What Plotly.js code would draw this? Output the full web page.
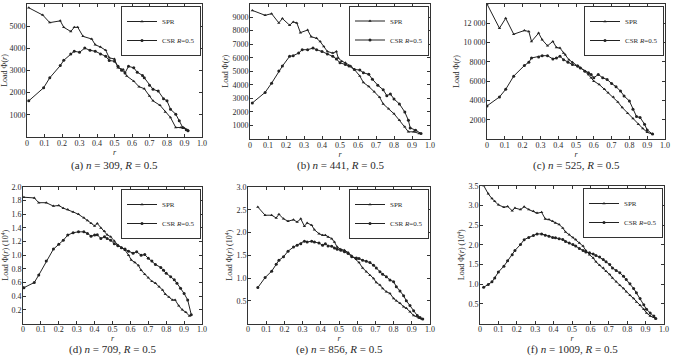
<!DOCTYPE html>
<html><head><meta charset="utf-8">
<script src="https://cdn.plot.ly/plotly-3.0.1.min.js"></script>
<style>html,body{margin:0;padding:0;background:#fff}#chart{width:673px;height:356px}</style>
</head><body><div id="chart"></div>
<script>
// ---- data ----
const seriesNames = ['SPR', 'CSR <i>R</i>=0.5'];
const captions = ['(a) <i>n</i> = 309, <i>R</i> = 0.5', '(b) <i>n</i> = 441, <i>R</i> = 0.5', '(c) <i>n</i> = 525, <i>R</i> = 0.5',
                  '(d) <i>n</i> = 709, <i>R</i> = 0.5', '(e) <i>n</i> = 856, <i>R</i> = 0.5', '(f) <i>n</i> = 1009, <i>R</i> = 0.5'];
const xTickVals = [0,0.1,0.2,0.3,0.4,0.5,0.6,0.7,0.8,0.9,1.0];
const xTickText = ['0','0.1','0.2','0.3','0.4','0.5','0.6','0.7','0.8','0.9','1.0'];

const aTickVals = [1000,2000,3000,4000,5000,6000];
const aTickText = ['1000','2000','3000','4000','5000','6000'];
const bTickVals = [1000,2000,3000,4000,5000,6000,7000,8000,9000,10000];
const bTickText = ['1000','2000','3000','4000','5000','6000','7000','8000','9000','10 000'];
const cTickVals = [2000,4000,6000,8000,10000,12000,14000];
const cTickText = ['2000','4000','6000','8000','10 000','12 000','14 000'];
const dTickVals = [0.2,0.4,0.6,0.8,1.0,1.2,1.4,1.6,1.8,2.0];
const dTickText = ['0.2','0.4','0.6','0.8','1.0','1.2','1.4','1.6','1.8','2.0'];
const eTickVals = [0.5,1.0,1.5,2.0,2.5,3.0];
const eTickText = ['0.5','1.0','1.5','2.0','2.5','3.0'];
const fTickVals = [0.5,1.0,1.5,2.0,2.5,3.0,3.5];
const fTickText = ['0.5','1.0','1.5','2.0','2.5','3.0','3.5'];

const aX_spr = [0.01,0.09,0.13,0.19,0.21,0.25,0.27,0.29,0.32,0.37,0.39,0.42,0.45,0.47,0.50,0.52,0.55,0.57,0.61,0.64,0.67,0.70,0.72,0.76,0.79,0.82,0.85,0.88,0.90,0.92];
const aY_spr = [5830,5500,5160,5240,4950,4760,4950,4950,4540,4420,4160,4060,3910,3570,3520,3120,3050,2750,2520,2270,2180,1850,1630,1430,1130,880,430,430,390,300];
const aX_csr = [0.01,0.095,0.13,0.19,0.21,0.25,0.27,0.30,0.33,0.36,0.39,0.42,0.45,0.47,0.50,0.52,0.54,0.56,0.58,0.61,0.63,0.66,0.67,0.70,0.72,0.75,0.78,0.80,0.82,0.85,0.87,0.89,0.91,0.92];
const aY_csr = [1630,2220,2670,3220,3460,3750,3870,3820,4010,3910,3870,3750,3640,3450,3420,3190,3010,2890,3190,3120,2920,2780,2670,2330,2150,2070,1730,1630,1250,1030,730,430,330,280];

const bX_spr = [0.013,0.084,0.12,0.16,0.18,0.22,0.24,0.26,0.28,0.32,0.34,0.37,0.39,0.41,0.43,0.46,0.48,0.49,0.51,0.53,0.56,0.58,0.61,0.63,0.66,0.69,0.72,0.74,0.77,0.80,0.83,0.86,0.88,0.91,0.94];
const bY_spr = [9490,9130,9250,8570,8890,8400,8640,8570,7850,8040,7550,7430,7190,6830,6460,6340,6460,5980,5740,5620,5380,5130,4650,4170,3870,3490,3080,2590,2230,1860,1380,900,530,530,410];
const bX_csr = [0.013,0.084,0.12,0.16,0.18,0.22,0.24,0.27,0.29,0.32,0.35,0.37,0.40,0.43,0.46,0.48,0.50,0.53,0.55,0.58,0.61,0.63,0.66,0.68,0.71,0.74,0.76,0.78,0.80,0.83,0.86,0.88,0.89,0.92,0.95];
const bY_csr = [2660,3440,4120,5010,5380,6100,6150,6340,6590,6590,6710,6590,6460,6270,6100,5910,5620,5500,5380,5130,5090,4890,4770,4410,3970,3630,3200,3320,2950,2590,1990,1380,820,650,410];

const cX_spr = [0.0,0.07,0.105,0.15,0.21,0.235,0.25,0.29,0.31,0.34,0.37,0.39,0.41,0.43,0.44,0.46,0.48,0.51,0.525,0.55,0.57,0.585,0.60,0.63,0.66,0.68,0.71,0.735,0.76,0.79,0.82,0.85,0.875,0.90,0.93];
const cY_spr = [14000,11490,12520,10870,11250,11150,10120,10980,10290,9670,10120,9500,9430,8920,8750,8230,7960,7620,7370,7030,6690,6350,6000,5660,5150,4800,4360,3840,3260,2680,2130,1540,1100,690,510];
const cX_csr = [0.0,0.07,0.105,0.15,0.21,0.235,0.25,0.29,0.31,0.34,0.37,0.39,0.41,0.43,0.455,0.48,0.51,0.525,0.55,0.57,0.585,0.60,0.625,0.65,0.675,0.70,0.725,0.75,0.77,0.80,0.82,0.84,0.86,0.885,0.90,0.93];
const cY_csr = [3430,4360,5150,6520,7620,7960,8400,8510,8640,8640,8300,8400,8580,8230,7960,7720,7550,7370,7030,6860,6690,6350,6690,6350,6170,5760,5420,4970,4460,3940,3090,2330,2230,1540,930,510];

const dX_spr = [0.005,0.063,0.088,0.13,0.17,0.20,0.225,0.25,0.28,0.31,0.34,0.36,0.38,0.40,0.415,0.435,0.455,0.47,0.49,0.51,0.53,0.55,0.57,0.59,0.605,0.625,0.645,0.66,0.68,0.70,0.72,0.74,0.76,0.78,0.795,0.815,0.835,0.85,0.87,0.89,0.91,0.93];
const dY_spr = [1.85,1.84,1.77,1.77,1.72,1.73,1.69,1.67,1.635,1.60,1.55,1.51,1.47,1.43,1.465,1.40,1.35,1.30,1.27,1.21,1.15,1.11,1.075,1.00,0.93,0.895,0.85,0.78,0.72,0.67,0.62,0.59,0.54,0.49,0.43,0.39,0.345,0.345,0.26,0.20,0.165,0.11];
const dX_csr = [0.005,0.063,0.088,0.13,0.17,0.20,0.225,0.25,0.28,0.31,0.34,0.36,0.38,0.40,0.415,0.435,0.455,0.47,0.49,0.51,0.53,0.55,0.57,0.59,0.615,0.635,0.66,0.68,0.70,0.72,0.74,0.77,0.785,0.80,0.825,0.845,0.86,0.88,0.90,0.92,0.94];
const dY_csr = [0.525,0.60,0.71,0.915,1.09,1.16,1.22,1.295,1.33,1.343,1.343,1.32,1.28,1.295,1.30,1.245,1.27,1.245,1.22,1.17,1.14,1.11,1.09,1.06,1.03,1.05,1.00,1.01,0.955,0.915,0.865,0.82,0.78,0.735,0.685,0.64,0.59,0.515,0.44,0.345,0.13];

const eX_spr = [0.054,0.094,0.13,0.155,0.17,0.195,0.22,0.25,0.27,0.29,0.31,0.325,0.35,0.365,0.39,0.41,0.425,0.44,0.46,0.475,0.49,0.51,0.53,0.55,0.57,0.595,0.61,0.63,0.65,0.67,0.69,0.705,0.725,0.74,0.76,0.78,0.80,0.815,0.835,0.855,0.87,0.89,0.91,0.94,0.955];
const eY_spr = [2.56,2.38,2.38,2.32,2.40,2.30,2.25,2.28,2.23,2.30,2.14,2.21,2.16,2.06,1.975,1.94,1.94,1.90,1.865,1.79,1.68,1.63,1.61,1.56,1.49,1.41,1.34,1.22,1.14,1.06,0.99,0.90,0.845,0.77,0.70,0.66,0.55,0.50,0.445,0.37,0.335,0.26,0.175,0.12,0.10];
const eX_csr = [0.054,0.094,0.13,0.155,0.17,0.195,0.22,0.25,0.27,0.29,0.31,0.325,0.35,0.365,0.39,0.41,0.425,0.44,0.46,0.475,0.49,0.51,0.53,0.55,0.57,0.595,0.61,0.63,0.65,0.67,0.69,0.705,0.725,0.74,0.76,0.78,0.80,0.815,0.835,0.855,0.87,0.89,0.91,0.93,0.945,0.96];
const eY_csr = [0.79,1.01,1.15,1.30,1.39,1.465,1.59,1.68,1.72,1.755,1.81,1.79,1.81,1.79,1.77,1.72,1.755,1.705,1.70,1.66,1.63,1.61,1.575,1.54,1.465,1.44,1.43,1.39,1.37,1.34,1.28,1.22,1.14,1.08,1.03,0.955,0.92,0.81,0.715,0.61,0.50,0.395,0.28,0.175,0.13,0.10];

const fX_spr = [0.02,0.045,0.065,0.08,0.10,0.13,0.15,0.175,0.19,0.22,0.24,0.265,0.29,0.31,0.335,0.355,0.375,0.395,0.41,0.43,0.45,0.465,0.485,0.505,0.52,0.54,0.56,0.575,0.595,0.615,0.63,0.65,0.67,0.685,0.705,0.72,0.74,0.76,0.78,0.795,0.815,0.835,0.85,0.87,0.89,0.905,0.925,0.945,0.955];
const fY_spr = [3.51,3.30,3.18,3.11,3.02,2.96,2.98,2.87,2.94,2.90,2.97,2.90,2.86,2.81,2.83,2.66,2.645,2.60,2.56,2.52,2.43,2.33,2.26,2.19,2.14,2.05,1.97,1.86,1.75,1.67,1.57,1.48,1.415,1.33,1.245,1.16,1.06,0.975,0.89,0.805,0.72,0.635,0.55,0.465,0.36,0.27,0.19,0.16,0.13];
const fX_csr = [0.02,0.045,0.065,0.08,0.10,0.13,0.15,0.175,0.19,0.22,0.24,0.265,0.29,0.31,0.335,0.355,0.375,0.395,0.41,0.43,0.45,0.465,0.485,0.505,0.52,0.54,0.56,0.575,0.595,0.615,0.63,0.65,0.67,0.685,0.705,0.72,0.74,0.76,0.78,0.795,0.815,0.835,0.85,0.87,0.89,0.905,0.925,0.945,0.955];
const fY_csr = [0.92,0.99,1.06,1.16,1.31,1.46,1.60,1.75,1.86,2.01,2.135,2.19,2.24,2.28,2.28,2.245,2.22,2.19,2.18,2.16,2.14,2.09,2.05,2.01,1.97,1.91,1.86,1.82,1.80,1.77,1.73,1.69,1.63,1.57,1.50,1.415,1.35,1.29,1.20,1.12,1.01,0.89,0.78,0.635,0.48,0.36,0.27,0.19,0.13];

// ---- layout (pixel boxes) ----
const W = 673, H = 356;
const FONT = '"Liberation Serif","Times New Roman",serif';
const INK = '#2a2a2a';
const panels = [
  {box:[27,202,4,137],  yr:[0,6000],  tv:aTickVals, tt:aTickText, yt:'Load Φ(<i>r</i>)', cy:166, d:[aX_spr,aY_spr,aX_csr,aY_csr]},
  {box:[250,430,3.5,139], yr:[0,10000], tv:bTickVals, tt:bTickText, yt:'Load Φ(<i>r</i>)', cy:166, d:[bX_spr,bY_spr,bX_csr,bY_csr]},
  {box:[487,665,4,139], yr:[0,14000], tv:cTickVals, tt:cTickText, yt:'Load Φ(<i>r</i>)', cy:166, d:[cX_spr,cY_spr,cX_csr,cY_csr]},
  {box:[23,202,187,323.5], yr:[0,2.0], tv:dTickVals, tt:dTickText, yt:'Load Φ(<i>r</i>) (10<sup>4</sup>)', cy:349, d:[dX_spr,dY_spr,dX_csr,dY_csr]},
  {box:[248,430,187,323.5], yr:[0,3.0], tv:eTickVals, tt:eTickText, yt:'Load Φ(<i>r</i>) (10<sup>4</sup>)', cy:349, d:[eX_spr,eY_spr,eX_csr,eY_csr]},
  {box:[480,664,186,323.5], yr:[0,3.5], tv:fTickVals, tt:fTickText, yt:'Load Φ(<i>r</i>) (10<sup>4</sup>)', cy:349, d:[fX_spr,fY_spr,fX_csr,fY_csr]}
];

const traces = [];
const layout = {
  width: W, height: H, margin:{l:0,r:0,t:0,b:0},
  paper_bgcolor:'#fff', plot_bgcolor:'#fff',
  font:{family:FONT, size:8, color:INK},
  showlegend:true, annotations:[]
};
panels.forEach((p,i) => {
  const k = i===0 ? '' : String(i+1);
  const [x0,x1,y0,y1] = p.box;
  const xd = [x0/W, x1/W], yd = [1-y1/H, 1-y0/H];
  const common = {showline:true, linecolor:'#333', linewidth:1, mirror:'ticks', ticks:'inside', ticklen:3,
                  tickcolor:'#333', showgrid:false, zeroline:false, tickfont:{family:FONT,size:8,color:INK}};
  layout['xaxis'+k] = Object.assign({}, common, {domain:xd, anchor:'y'+k, range:[0,1.0],
      tickmode:'array', tickvals:xTickVals, ticktext:xTickText, ticklabelstandoff:-2,
      title:{text:'<i>r</i>', font:{family:FONT,size:8,color:INK}, standoff:0}});
  layout['yaxis'+k] = Object.assign({}, common, {domain:yd, anchor:'x'+k, range:p.yr,
      tickmode:'array', tickvals:p.tv, ticktext:p.tt, ticklabelstandoff:-1,
      title:{text:p.yt, font:{family:FONT,size:8,color:INK}, standoff:2}});
  const lg = 'legend'+k;
  layout[lg] = {x:(x1-1)/W, xanchor:'right', y:1-(y0+2)/H, yanchor:'top', bgcolor:'#fff',
      bordercolor:'#333', borderwidth:1, font:{family:FONT,size:7,color:INK}, itemwidth:30, tracegroupgap:0};
  const syms = ['triangle-up','circle'];
  for (let s=0; s<2; s++) {
    traces.push({type:'scatter', mode:'lines+markers', x:p.d[2*s], y:p.d[2*s+1], name:seriesNames[s],
      xaxis:'x'+k, yaxis:'y'+k, legend:lg,
      line:{color:'#222', width:1}, marker:{symbol:syms[s], size:3, color:'#222'}});
  }
  layout.annotations.push({xref:'paper', yref:'paper', x:(x0+x1)/2/W, y:1-p.cy/H, xanchor:'center', yanchor:'middle',
      showarrow:false, text:captions[i], font:{family:FONT, size:11, color:INK}});
});
Plotly.newPlot('chart', traces, layout, {staticPlot:true, displayModeBar:false});
</script>
</body></html>
